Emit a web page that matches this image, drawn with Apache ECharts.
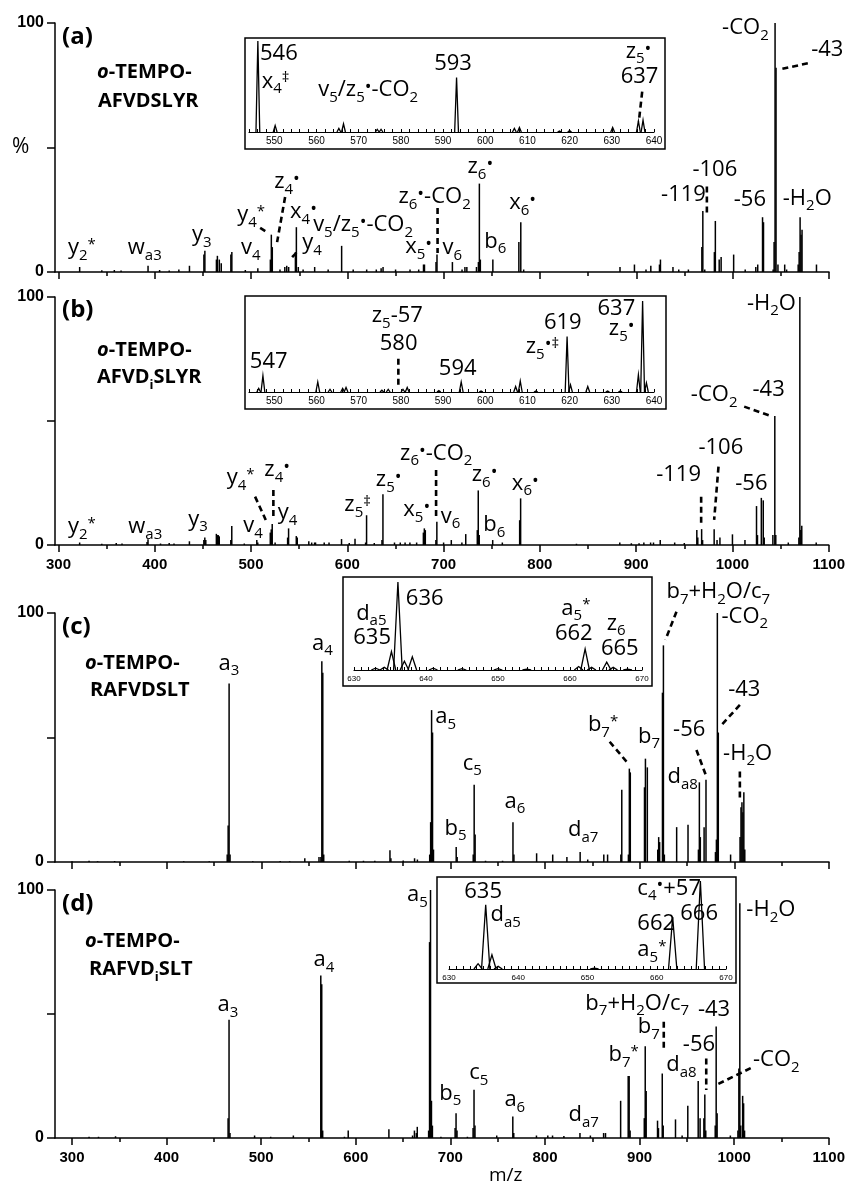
<!DOCTYPE html>
<html>
<head>
<meta charset="utf-8">
<script src="https://cdn.jsdelivr.net/npm/echarts@6/dist/echarts.min.js"></script>
<style>
html,body{margin:0;padding:0;background:#fff}
#main{width:848px;height:1184px}
</style>
</head>
<body>
<div id="main"></div>
<script>
// ---- data: [m/z, relative intensity %] ----
var peaksA = [[322,2],[345,0.7],[358,0.8],[365,0.6],[393,2.5],[405,0.8],[415,0.6],[425,1],[436,2.5],[451,7],[452,8.5],[464,5],[465,6.5],[467,5],[469,3.5],[479,7],[480,8],[494,0.8],[507,1.5],[520,5],[521,15],[522,10],[530,1],[535,2],[537,2.5],[539,2],[546,8],[547,18],[549,2],[554,1],[566,2],[580,1],[594,10.5],[606,1],[620,1],[630,1],[635,1.5],[637,2],[650,1],[665,1],[674,1],[679,3],[680,3],[692,4],[693,7],[709,4],[719,1],[722,2],[724,2],[734,2],[736,4],[737,35.5],[738,5],[751,5],[778,12],[780,20],[783,1],[883,2],[898,3],[910,1],[915,2.5],[924,3],[925,5],[938,2],[944,1],[954,1],[968,10],[969,24.5],[971,1],[981,8],[982,20.5],[986,5],[988,6],[1001,7],[1013,1],[1024,2],[1026,3],[1031,22],[1032,20],[1042,1],[1043,12],[1044,100],[1045,82],[1047,3],[1054,3],[1056,1],[1068,3],[1069,8],[1070,22],[1071,15],[1072,17],[1087,3]];
var peaksB = [[322,1],[345,0.5],[360,0.8],[366,0.6],[392,1.2],[393,2.3],[406,0.6],[415,0.8],[420,0.6],[436,1.5],[451,2],[452,3],[453,2],[464,4.5],[465,4],[466,4],[467,3.5],[479,2],[480,7.7],[493,0.6],[506,2],[507,1],[520,5],[521,6.3],[522,8.5],[525,1],[538,3],[539,6.7],[547,3.6],[548,3],[560,1.5],[563,1],[566,1],[567,1],[576,1],[581,1],[594,2.4],[602,0.8],[608,2.5],[619,1],[620,12],[628,0.8],[636,2],[637,20.5],[649,1],[655,1],[660,1],[665,1],[672,1],[679,5],[680,6.7],[681,6],[692,2],[693,9.4],[700,1],[708,2],[719,1],[723,4.4],[735,6],[736,22],[737,4],[751,2],[761,1],[779,10],[780,18.8],[838,0.5],[883,1],[895,0.7],[903,0.7],[908,1],[915,1],[918,1],[925,2],[940,1],[950,0.8],[963,6],[964,3],[968,6.4],[969,2],[981,6.4],[984,2],[987,3],[1000,4.3],[1013,2],[1025,15.7],[1026,4],[1030,19],[1032,18],[1033,3],[1042,4],[1044,52],[1045,4],[1058,1],[1069,3],[1070,100],[1071,6],[1072,7.8],[1087,1]];
var peaksC = [[300,0.3],[318,0.5],[327,0.3],[345,0.4],[418,0.3],[445,0.3],[464,3],[465,14.7],[466,71.7],[467,3],[491,0.3],[520,0.4],[530,0.3],[546,1.5],[561,2],[563,2],[564,80.6],[565,76],[566,3],[593,0.5],[608,0.5],[620,0.5],[636,4.7],[637,1.5],[650,0.6],[662,1.5],[665,1],[678,3],[679,16],[680,61],[681,52],[682,5],[706,6],[707,2],[724,3],[725,31],[726,11],[737,0.5],[755,0.5],[766,16],[767,3],[791,3.5],[808,3],[823,2],[837,4],[845,1],[862,3],[866,3],[880,3],[881,29],[888,3],[889,37.5],[890,36],[905,30],[906,41.5],[908,38],[919,5],[920,10],[921,8],[924,68],[925,87],[926,3],[939,14],[951,15],[962,5],[963,32],[964,10],[968,14],[970,33],[980,4],[981,9],[982,100],[983,52],[996,3],[1006,10],[1007,22],[1008,24],[1009,20],[1010,28],[1011,5]];
var peaksD = [[318,0.5],[328,0.5],[346,0.7],[465,8],[466,47.7],[467,2],[493,1],[510,0.5],[534,1],[563,65.5],[564,62],[565,3],[588,0.5],[592,3],[635,3.5],[660,1],[662,3],[664,2],[665,4.5],[677,3],[678,79],[679,100],[680,15],[681,5],[690,0.5],[705,4],[706,10],[707,3],[718,0.5],[724,4],[725,19.5],[726,5],[749,1],[766,8.7],[767,2],[791,1],[803,1],[808,1],[820,0.8],[837,2],[848,1],[862,2],[864,2],[880,15],[888,25],[889,25],[890,3],[905,8],[906,37],[907,19],[919,7],[920,4],[924,26],[925,5],[938,7.5],[945,1],[951,13],[962,23],[964,8],[968,8],[969,17.5],[970,3],[980,5],[981,45],[982,10],[996,1],[1004,3],[1005,28],[1006,94.7],[1007,5],[1009,17],[1010,14],[1011,3]];

// inset (zoomed) spectra
var insetA = [[546.1,100],[550.2,7],[565.3,4],[566.4,9],[574.4,3],[575.3,3],[593.2,60],[606.9,4],[608.1,5],[617.6,1],[620,1.5],[630.2,5],[636.3,12],[637.4,13]];
var insetB = [[546.3,4],[547.3,18],[560.3,11],[563.2,3],[566.2,4],[567,5],[575.5,2],[577,3],[580.5,3],[581.5,5],[589,1.5],[594.3,11],[599,1],[607.2,6],[608.3,12],[612,1],[619.4,61],[620.2,8],[624.3,6],[629,1],[632,1],[636.3,19],[637.3,100],[638.2,10]];
var insetC = [[633,2],[634.2,3],[635.2,21],[636.1,100],[637,10],[638.1,15],[641,2],[645,1.5],[650,1.5],[654,1],[661.2,4],[662.1,24],[663,3],[665.1,9],[666,3],[668,1]];
var insetD = [[634.2,6],[635.3,73],[636.2,16],[637.1,3],[651,1],[662.3,59],[666.3,100]];

// tick labels
var mzMajor = [300,400,500,600,700,800,900,1000,1100];
var mzMinor = [350,450,550,650,750,850,950,1050];
var insetLabelsAB = [550,560,570,580,590,600,610,620,630,640];
var insetLabelsCD = [630,640,650,660,670];

// peak annotations: [m/z, intensity at text baseline, rich text]
var labelsA = [
  [309.9,5.6,'{n|y}{s|2}{u|*}'],[372,5.6,'{n|w}{s|a3}'],[438.7,10.8,'{n|y}{s|3}'],[489.6,5.6,'{n|v}{s|4}'],
  [485.5,18.9,'{n|y}{s|4}{u|*}'],[524,32.1,'{n|z}{s|4}{d|•}'],[540.5,20.1,'{n|x}{s|4}{d|•}'],[553,7.6,'{n|y}{s|4}'],
  [564.4,14.9,'{n|v}{s|5}{n|/z}{s|5}{d|•}{n|-CO}{s|2}'],[660,6.1,'{n|x}{s|5}{d|•}'],[653,26.2,'{n|z}{s|6}{d|•}{n|-CO}{s|2}'],
  [724.7,38.2,'{n|z}{s|6}{d|•}'],[768,23.7,'{n|x}{s|6}{d|•}'],[698.8,5.6,'{n|v}{s|6}'],[742,8.2,'{n|b}{s|6}'],
  [925.7,26.9,'{n|-119}'],[958.2,36.9,'{n|-106}'],[1001.1,24.9,'{n|-56}'],[1052,25.6,'{n|-H}{s|2}{n|O}'],
  [989,93.9,'{n|-CO}{s|2}'],[1081.5,85.1,'{n|-43}']
];
var labelsB = [
  [309.9,3.2,'{n|y}{s|2}{u|*}'],[372.5,3.2,'{n|w}{s|a3}'],[434.9,6.3,'{n|y}{s|3}'],[492,3.6,'{n|v}{s|4}'],
  [474.8,22.9,'{n|y}{s|4}{u|*}'],[513.8,26.2,'{n|z}{s|4}{d|•}'],[527.7,8.8,'{n|y}{s|4}'],[596.9,12.1,'{n|z}{s|5}{u|‡}'],
  [629.6,22.2,'{n|z}{s|5}{d|•}'],[658.2,10.1,'{n|x}{s|5}{d|•}'],[654.8,32.9,'{n|z}{s|6}{d|•}{n|-CO}{s|2}'],
  [729.3,24.2,'{n|z}{s|6}{d|•}'],[770.9,20.8,'{n|x}{s|6}{d|•}'],[697.1,7.4,'{n|v}{s|6}'],[741.3,4.0,'{n|b}{s|6}'],
  [920.8,24.2,'{n|-119}'],[964.7,35,'{n|-106}'],[1002.9,20.8,'{n|-56}'],[956.8,56.5,'{n|-CO}{s|2}'],
  [1020.8,58.5,'{n|-43}'],[1015,93.4,'{n|-H}{s|2}{n|O}']
];
var labelsC = [
  [454.8,75.8,'{n|a}{s|3}'],[553.6,83.8,'{n|a}{s|4}'],[683.8,54.3,'{n|a}{s|5}'],[693.6,9.5,'{n|b}{s|5}'],
  [713,35.6,'{n|c}{s|5}'],[757.1,20.2,'{n|a}{s|6}'],[824.1,8.8,'{n|d}{s|a7}'],[845.2,51,'{n|b}{s|7}{u|*}'],
  [898.1,46.3,'{n|b}{s|7}'],[928.2,104.5,'{n|b}{s|7}{n|+H}{s|2}{n|O/c}{s|7}'],[986.4,94.5,'{n|-CO}{s|2}'],
  [993.4,65.1,'{n|-43}'],[935.2,49,'{n|-56}'],[929.3,30.2,'{n|d}{s|a8}'],[988.1,39.6,'{n|-H}{s|2}{n|O}']
];
var labelsD = [
  [453.7,49.6,'{n|a}{s|3}'],[555.3,67.7,'{n|a}{s|4}'],[654.1,94,'{n|a}{s|5}'],[688.3,14,'{n|b}{s|5}'],
  [720,22.1,'{n|c}{s|5}'],[757.1,11.3,'{n|a}{s|6}'],[824.8,5.2,'{n|d}{s|a7}'],[867.1,29.4,'{n|b}{s|7}{u|*}'],
  [898.1,40.8,'{n|b}{s|7}'],[842.7,50.3,'{n|b}{s|7}{n|+H}{s|2}{n|O/c}{s|7}'],[928.2,25.4,'{n|d}{s|a8}'],
  [945.8,33.5,'{n|-56}'],[961.7,47.6,'{n|-43}'],[1019.9,27.4,'{n|-CO}{s|2}'],[1012.9,87.9,'{n|-H}{s|2}{n|O}']
];
var labelsIA = [[546.6,75.5,'{n|546}'],[547,44.3,'{n|x}{s|4}{u|‡}'],[560.4,35.2,'{n|v}{s|5}{n|/z}{s|5}{d|•}{n|-CO}{s|2}'],
  [587.9,64.5,'{n|593}'],[633.3,77.3,'{n|z}{s|5}{d|•}'],[632.1,49.8,'{n|637}']];
var labelsIB = [[544.2,22.1,'{n|547}'],[573.1,72.8,'{n|z}{s|5}{n|-57}'],[575,42.1,'{n|580}'],[589,14.9,'{n|594}'],
  [609.6,38.4,'{n|z}{s|5}{d|•}{u|‡}'],[613.9,65.5,'{n|619}'],[626.6,80.1,'{n|637}'],[629.3,58.4,'{n|z}{s|5}{d|•}']];
var labelsIC = [[630.3,53.1,'{n|d}{s|a5}'],[629.9,25.8,'{n|635}'],[637.2,70.1,'{n|636}'],[658.8,58.8,'{n|a}{s|5}{u|*}'],
  [657.9,29.5,'{n|662}'],[665.1,41.7,'{n|z}{s|6}'],[664.3,13.3,'{n|665}']];
var labelsID = [[632.2,76.5,'{n|635}'],[636,50,'{n|d}{s|a5}'],[657.2,80.3,'{n|c}{s|4}{d|•}{n|+57}'],
  [657.2,40.6,'{n|662}'],[663.4,51.9,'{n|666}'],[657.2,10.2,'{n|a}{s|5}{u|*}']];

// dashed leader lines: [m/z1, I1, m/z2, I2]
var leadersA = [[509.4,17.7,517.7,15.7],[535.3,30.1,527,12],[542.6,6.0,547.8,8.0],[693.6,25.7,693.6,7.6],[973.2,34.3,973.2,23.6],[1078,83.8,1050.3,81.5]];
var leadersB = [[504.2,19.5,515.3,10.1],[523.2,22.2,523.2,10.1],[692.2,30.2,692.2,10.1],[967.5,19.5,967.5,8.1],[985.5,31.6,981,10.1],[1012.2,55.8,1039.9,52]];
var leadersC = [[868.2,48.3,887.6,39.6],[938.8,100.5,927.1,89.2],[1005.8,63.1,986.4,55],[959.9,45,969.8,34.9],[1005.8,36.3,1005.8,24.9]];
var leadersD = [[925.6,46.9,925.6,34.8],[970.5,32.1,970.5,19.4],[1017.5,28.2,981.2,21.4]];
var leadersIA = [[637.2,44.3,636.4,11.3]];
var leadersIB = [[579.4,36.6,579.4,5.8]];

var panelNames = ['(a)','(b)','(c)','(d)'];
var peptideLines = [
  ['{bi|o}{b|-TEMPO-}','{b|AFVDSLYR}'],
  ['{bi|o}{b|-TEMPO-}','{b|AFVD}{bs|i}{b|SLYR}'],
  ['{bi|o}{b|-TEMPO-}','{b|RAFVDSLT}'],
  ['{bi|o}{b|-TEMPO-}','{b|RAFVD}{bs|i}{b|SLT}']
];

// ---- layout ----
var FONT = 'Open Sans';
var AXF = 'Liberation Sans';
var mainGrids = [
  {left:55, top:23, width:774, height:249},
  {left:55, top:297, width:774, height:248},
  {left:55, top:613, width:774, height:249},
  {left:55, top:890, width:774, height:248}
];
var insetGrids = [
  {left:249, top:41, width:405, height:91},
  {left:249, top:301, width:405, height:91},
  {left:354, top:582, width:288, height:88},
  {left:449, top:881, width:277, height:88}
];
var insetBoxes = [[245,38,420,111],[245,296,421,113],[343,577,309,109],[437,877,299,106]];
var xMin = [296.4, 296.4, 282, 282];
var insetRange = [[544,640],[544,640],[630,670],[630,670]];
var showXLabels = [false, true, false, true];
var titlePos = [[37,74,103],[310,352,379],[627,665,692],[904,943,971]];
var titleX = [[97,98],[97,97],[85,90],[85,89]];

var chart = echarts.init(document.getElementById('main'));

var grids = [], xAxes = [], yAxes = [], series = [];
mainGrids.forEach(function(g){ grids.push(g); });
insetGrids.forEach(function(g){ grids.push(g); });

function plain(v){ return String(v); }
var black = {color:'#000', width:1.5};
for (var i = 0; i < 4; i++) {
  xAxes.push({
    gridIndex:i, type:'value', position:'bottom', min:xMin[i], max:1100,
    axisLine:{show:true, onZero:false, lineStyle:black},
    axisTick:{show:true, length:7, customValues:mzMajor, lineStyle:black},
    axisLabel:{show:showXLabels[i], customValues:mzMajor, color:'#000', fontFamily:AXF,
      fontSize:15, fontWeight:'bold', margin:12, formatter:plain},
    splitLine:{show:false}
  });
}
for (var i = 0; i < 4; i++) {
  xAxes.push({
    gridIndex:i, type:'value', position:'bottom', min:xMin[i], max:1100,
    axisLine:{show:false},
    axisTick:{show:true, length:4, customValues:mzMinor, lineStyle:black},
    axisLabel:{show:false, customValues:mzMinor},
    splitLine:{show:false}
  });
}
var insetTicks = [[],[],[],[]];
for (var k = 0; k < 4; k++) {
  var step = k < 2 ? 2 : 1;
  for (var v = insetRange[k][0]; v <= insetRange[k][1]; v += step) insetTicks[k].push(v);
  xAxes.push({
    gridIndex:4+k, type:'value', position:'bottom', min:insetRange[k][0], max:insetRange[k][1],
    axisLine:{show:true, onZero:false, lineStyle:{color:'#000', width:1.2}},
    axisTick:{show:true, inside:true, length:3, customValues:insetTicks[k], lineStyle:{color:'#000', width:1}},
    axisLabel:{show:true, customValues: k < 2 ? insetLabelsAB : insetLabelsCD, color:'#000',
      fontFamily:AXF, fontSize: k < 2 ? 10 : 8, margin: k < 2 ? 4 : 5, formatter:plain},
    splitLine:{show:false}
  });
}
for (var i = 0; i < 4; i++) {
  yAxes.push({
    gridIndex:i, type:'value', min:0, max:100, interval:50,
    axisLine:{show:true, lineStyle:black},
    axisTick:{show:true, length:8, lineStyle:black},
    axisLabel:{color:'#000', fontFamily:AXF, fontSize:16, fontWeight:'bold', margin:11,
      formatter:function(v){ return v === 50 ? '' : String(v); }},
    splitLine:{show:false}
  });
}
for (var k = 0; k < 4; k++) {
  yAxes.push({gridIndex:4+k, type:'value', min:0, max:100, show:false});
}

function stick(params, api) {
  var p0 = api.coord([api.value(0), 0]);
  var p1 = api.coord([api.value(0), api.value(1)]);
  return {type:'line', shape:{x1:p0[0], y1:p0[1], x2:p1[0], y2:p1[1]},
    style:{stroke:'#000', lineWidth:1.5}};
}
function profile(hw) {
  return function(params, api) {
    var m = api.value(0), h = api.value(1);
    var pts = [api.coord([m - hw, 0]), api.coord([m, h]), api.coord([m + hw, 0])];
    return {type:'polyline', shape:{points:pts}, style:{stroke:'#000', fill:null, lineWidth:1.3}};
  };
}

var mainPeaks = [peaksA, peaksB, peaksC, peaksD];
var insetPeaks = [insetA, insetB, insetC, insetD];
for (var i = 0; i < 4; i++) {
  series.push({type:'custom', xAxisIndex:i, yAxisIndex:i, data:mainPeaks[i],
    encode:{x:0, y:1}, renderItem:stick, silent:true, z:3});
}
var hws = [0.45, 0.45, 0.6, 0.6];
for (var k = 0; k < 4; k++) {
  series.push({type:'custom', xAxisIndex:8+k, yAxisIndex:4+k, data:insetPeaks[k],
    encode:{x:0, y:1}, renderItem:profile(hws[k]), silent:true, z:4});
}
function addLeaders(list, xi, yi) {
  list.forEach(function(l){
    series.push({type:'line', xAxisIndex:xi, yAxisIndex:yi, data:[[l[0],l[1]],[l[2],l[3]]],
      symbol:'none', silent:true, clip:false, z:5,
      lineStyle:{color:'#000', width:2.6, type:[6,4]}});
  });
}
addLeaders(leadersA, 0, 0);
addLeaders(leadersB, 1, 1);
addLeaders(leadersC, 2, 2);
addLeaders(leadersD, 3, 3);
addLeaders(leadersIA, 8, 4);
addLeaders(leadersIB, 9, 5);

chart.setOption({
  animation:false,
  backgroundColor:'#fff',
  grid:grids, xAxis:xAxes, yAxis:yAxes, series:series
});

// ---- texts ----
var RICH = {
  n:{fontFamily:FONT, fontSize:22, lineHeight:26, verticalAlign:'top', fill:'#000'},
  s:{fontFamily:FONT, fontSize:15, lineHeight:15, padding:[11,0,0,0], verticalAlign:'top', fill:'#000'},
  u:{fontFamily:FONT, fontSize:15, lineHeight:15, verticalAlign:'top', fill:'#000'},
  d:{fontFamily:FONT, fontSize:18, lineHeight:16, verticalAlign:'top', fill:'#000'}
};
var RICH_T = {
  b:{fontFamily:FONT, fontSize:20, fontWeight:'bold', lineHeight:24, verticalAlign:'top', fill:'#000'},
  bi:{fontFamily:FONT, fontSize:20, fontWeight:'bold', fontStyle:'italic', lineHeight:24, verticalAlign:'top', fill:'#000'},
  bs:{fontFamily:FONT, fontSize:13, fontWeight:'bold', lineHeight:13, padding:[12,0,0,0], verticalAlign:'top', fill:'#000'}
};

var graphics = [];
function txt(x, y, text, rich, va, extra) {
  var st = {text:text, fill:'#000', fontFamily:FONT, fontSize:20,
    align:'left', verticalAlign:va, textAlign:'left', textVerticalAlign:va};
  if (rich) st.rich = rich;
  if (extra) for (var key in extra) { st[key] = extra[key]; }
  graphics.push({type:'text', x:x, y:y, z:100, silent:true, style:st});
}
function addLabels(list, xi, yi) {
  list.forEach(function(l){
    var p = chart.convertToPixel({xAxisIndex:xi, yAxisIndex:yi}, [l[0], l[1]]);
    txt(p[0], p[1] - 21, l[2], RICH, 'top');
  });
}
addLabels(labelsA, 0, 0);
addLabels(labelsB, 1, 1);
addLabels(labelsC, 2, 2);
addLabels(labelsD, 3, 3);
addLabels(labelsIA, 8, 4);
addLabels(labelsIB, 9, 5);
addLabels(labelsIC, 10, 6);
addLabels(labelsID, 11, 7);

insetBoxes.forEach(function(b){
  graphics.push({type:'rect', z:90, silent:true, shape:{x:b[0], y:b[1], width:b[2], height:b[3]},
    style:{fill:null, stroke:'#000', lineWidth:1.5}});
});
for (var i = 0; i < 4; i++) {
  txt(62, titlePos[i][0], panelNames[i], null, 'middle', {fontSize:24, fontWeight:'bold'});
  txt(titleX[i][0], titlePos[i][1], peptideLines[i][0], RICH_T, 'middle');
  txt(titleX[i][1], titlePos[i][2], peptideLines[i][1], RICH_T, 'middle');
}
txt(12, 147, '%', null, 'middle', {fontSize:21});
txt(489, 1176, 'm/z', null, 'middle', {fontSize:19});

chart.setOption({graphic:{elements:graphics}});
window.addEventListener('resize', function(){ chart.resize(); });
</script>
</body>
</html>
